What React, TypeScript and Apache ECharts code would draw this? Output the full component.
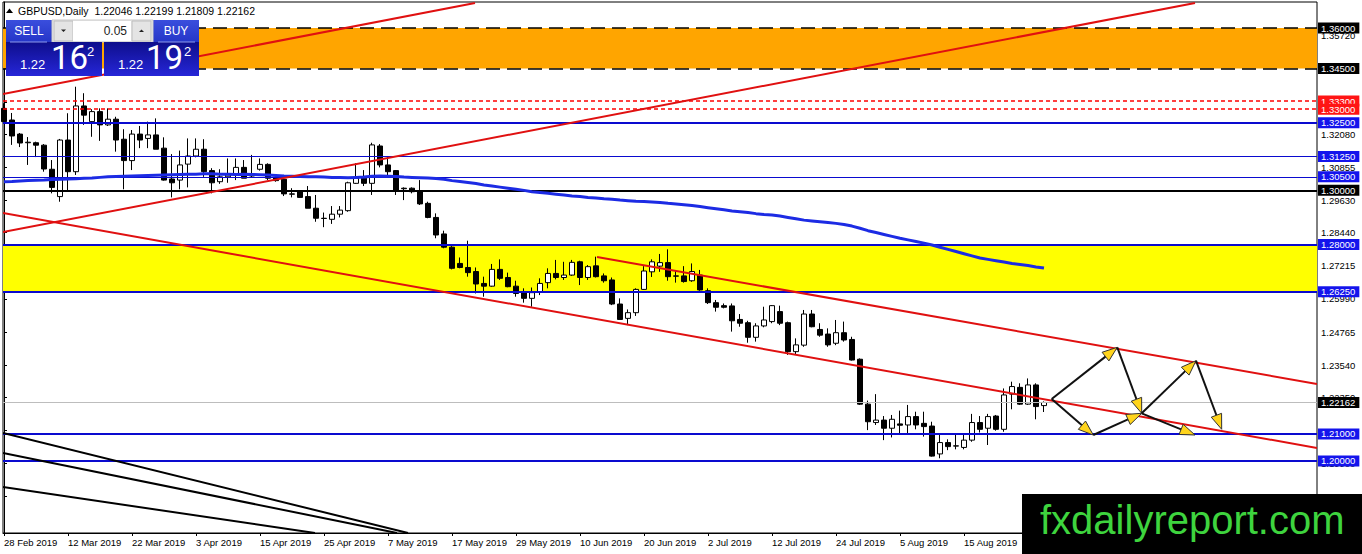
import * as echarts from 'echarts';
import { useEffect, useRef } from 'react';

// daily bars from 28 Feb 2019: [open, high, low, close]
const candles: [number, number, number, number][] = [
    [1.3303, 1.3322, 1.3248, 1.3254], [1.3260, 1.3286, 1.3168, 1.3201], [1.3208, 1.3212, 1.3160, 1.3175],
    [1.3176, 1.3197, 1.3094, 1.3178], [1.3176, 1.3180, 1.3123, 1.3167], [1.3167, 1.3171, 1.3069, 1.3079],
    [1.3078, 1.3112, 1.2989, 1.3011], [1.2977, 1.3190, 1.2958, 1.3186], [1.3186, 1.3285, 1.3001, 1.3069],
    [1.3069, 1.3383, 1.3057, 1.3312], [1.3312, 1.3359, 1.3242, 1.3278], [1.3254, 1.3300, 1.3198, 1.3291],
    [1.3291, 1.3303, 1.3183, 1.3242], [1.3242, 1.3303, 1.3238, 1.3263], [1.3263, 1.3272, 1.3143, 1.3186],
    [1.3189, 1.3226, 1.3004, 1.3110], [1.3110, 1.3223, 1.3075, 1.3208], [1.3208, 1.3238, 1.3156, 1.3186],
    [1.3192, 1.3254, 1.3156, 1.3205], [1.3205, 1.3266, 1.3152, 1.3152], [1.3156, 1.3196, 1.3036, 1.3038],
    [1.3042, 1.3134, 1.2974, 1.3028], [1.3038, 1.3147, 1.3004, 1.3094], [1.3097, 1.3192, 1.3011, 1.3127],
    [1.3127, 1.3192, 1.3122, 1.3152], [1.3152, 1.3189, 1.3050, 1.3069], [1.3073, 1.3082, 1.2989, 1.3028],
    [1.3032, 1.3078, 1.3024, 1.3050], [1.3050, 1.3118, 1.3028, 1.3057], [1.3057, 1.3118, 1.3038, 1.3085],
    [1.3085, 1.3112, 1.3045, 1.3045], [1.3060, 1.3131, 1.3048, 1.3053], [1.3078, 1.3118, 1.3073, 1.3096],
    [1.3096, 1.3100, 1.3038, 1.3045], [1.3048, 1.3057, 1.3032, 1.3036], [1.3041, 1.3057, 1.2979, 1.2987],
    [1.2987, 1.3008, 1.2974, 1.2986], [1.2995, 1.2997, 1.2972, 1.2974], [1.2977, 1.3016, 1.2934, 1.2934],
    [1.2934, 1.2983, 1.2884, 1.2897], [1.2897, 1.2918, 1.2864, 1.2896], [1.2893, 1.2942, 1.2876, 1.2912],
    [1.2912, 1.2942, 1.2900, 1.2927], [1.2925, 1.3032, 1.2921, 1.3028], [1.3026, 1.3100, 1.3024, 1.3045],
    [1.3045, 1.3075, 1.3016, 1.3026], [1.3026, 1.3176, 1.2983, 1.3168], [1.3164, 1.3171, 1.3085, 1.3094],
    [1.3094, 1.3127, 1.3050, 1.3069], [1.3073, 1.3075, 1.2983, 1.3001], [1.3008, 1.3011, 1.2964, 1.3006],
    [1.3008, 1.3011, 1.2989, 1.2995], [1.2995, 1.3038, 1.2946, 1.2950], [1.2952, 1.2958, 1.2897, 1.2900],
    [1.2900, 1.2915, 1.2823, 1.2835], [1.2839, 1.2851, 1.2786, 1.2790], [1.2790, 1.2794, 1.2708, 1.2712],
    [1.2730, 1.2752, 1.2712, 1.2715], [1.2715, 1.2814, 1.2681, 1.2696], [1.2700, 1.2715, 1.2619, 1.2654],
    [1.2656, 1.2681, 1.2607, 1.2646], [1.2646, 1.2728, 1.2644, 1.2708], [1.2708, 1.2745, 1.2669, 1.2675],
    [1.2678, 1.2696, 1.2642, 1.2644], [1.2646, 1.2666, 1.2607, 1.2619], [1.2622, 1.2638, 1.2585, 1.2601],
    [1.2601, 1.2641, 1.2570, 1.2622], [1.2626, 1.2675, 1.2613, 1.2656], [1.2659, 1.2712, 1.2638, 1.2693],
    [1.2693, 1.2743, 1.2671, 1.2678], [1.2678, 1.2736, 1.2669, 1.2687], [1.2687, 1.2743, 1.2684, 1.2734],
    [1.2736, 1.2740, 1.2650, 1.2678], [1.2678, 1.2724, 1.2669, 1.2718], [1.2721, 1.2755, 1.2678, 1.2681],
    [1.2684, 1.2693, 1.2659, 1.2666], [1.2669, 1.2678, 1.2576, 1.2580], [1.2580, 1.2601, 1.2523, 1.2523],
    [1.2527, 1.2560, 1.2502, 1.2548], [1.2548, 1.2638, 1.2536, 1.2634], [1.2634, 1.2720, 1.2632, 1.2702],
    [1.2699, 1.2745, 1.2680, 1.2736], [1.2720, 1.2765, 1.2699, 1.2733], [1.2733, 1.2782, 1.2666, 1.2681],
    [1.2684, 1.2703, 1.2659, 1.2683], [1.2684, 1.2720, 1.2659, 1.2663], [1.2666, 1.2730, 1.2662, 1.2700],
    [1.2687, 1.2706, 1.2629, 1.2632], [1.2629, 1.2638, 1.2580, 1.2585], [1.2585, 1.2595, 1.2552, 1.2568],
    [1.2574, 1.2582, 1.2564, 1.2568], [1.2573, 1.2582, 1.2478, 1.2518], [1.2523, 1.2543, 1.2496, 1.2509],
    [1.2511, 1.2518, 1.2437, 1.2457], [1.2457, 1.2509, 1.2441, 1.2499], [1.2499, 1.2570, 1.2494, 1.2521],
    [1.2515, 1.2576, 1.2509, 1.2574], [1.2552, 1.2574, 1.2502, 1.2509], [1.2511, 1.2515, 1.2392, 1.2404],
    [1.2404, 1.2453, 1.2392, 1.2429], [1.2428, 1.2558, 1.2422, 1.2543], [1.2543, 1.2558, 1.2494, 1.2496],
    [1.2486, 1.2509, 1.2459, 1.2465], [1.2469, 1.2490, 1.2422, 1.2429], [1.2435, 1.2521, 1.2428, 1.2474],
    [1.2474, 1.2515, 1.2441, 1.2447], [1.2449, 1.2459, 1.2371, 1.2373], [1.2376, 1.2379, 1.2207, 1.2210],
    [1.2210, 1.2223, 1.2114, 1.2145], [1.2142, 1.2247, 1.2133, 1.2151], [1.2151, 1.2166, 1.2077, 1.2121],
    [1.2121, 1.2170, 1.2087, 1.2154], [1.2137, 1.2186, 1.2102, 1.2132], [1.2133, 1.2207, 1.2099, 1.2164],
    [1.2164, 1.2182, 1.2117, 1.2133], [1.2139, 1.2182, 1.2090, 1.2127], [1.2129, 1.2145, 1.2016, 1.2018],
    [1.2026, 1.2102, 1.2010, 1.2068], [1.2068, 1.2080, 1.2040, 1.2053], [1.2055, 1.2100, 1.2043, 1.2056],
    [1.2050, 1.2100, 1.2043, 1.2077], [1.2077, 1.2174, 1.2071, 1.2142], [1.2142, 1.2166, 1.2105, 1.2117],
    [1.2121, 1.2174, 1.2059, 1.2164], [1.2166, 1.2170, 1.2112, 1.2117], [1.2117, 1.2268, 1.2108, 1.2244],
    [1.2247, 1.2293, 1.2191, 1.2275], [1.2272, 1.2287, 1.2207, 1.2210], [1.2210, 1.2305, 1.2207, 1.2281],
    [1.2281, 1.2287, 1.2154, 1.2201], [1.22046, 1.22199, 1.21809, 1.22162]
];

// moving average (blue line)
const movingAverage: number[] = [
    1.3032, 1.3033, 1.3035, 1.3036, 1.3037, 1.3038, 1.3040, 1.3041,
    1.3042, 1.3043, 1.3045, 1.3046, 1.3048, 1.3050, 1.3051, 1.3052,
    1.3053, 1.3054, 1.3055, 1.3056, 1.3057, 1.3058, 1.3059, 1.3060,
    1.3060, 1.3061, 1.3061, 1.3060, 1.3060, 1.3059, 1.3060, 1.3059, 1.3058, 1.3057, 1.3055,
    1.3053, 1.3052, 1.3051, 1.3050, 1.3050, 1.3049, 1.3048,
    1.3048, 1.3047, 1.3048, 1.3049, 1.3052, 1.3053,
    1.3052, 1.3051, 1.3049, 1.3048, 1.3047, 1.3046, 1.3044, 1.3041,
    1.3036, 1.3033, 1.3029, 1.3025, 1.3020, 1.3016, 1.3012, 1.3008, 1.3004, 1.3000, 1.2995,
    1.2992, 1.2989, 1.2986, 1.2983, 1.2979, 1.2977, 1.2974, 1.2972, 1.2969, 1.2967, 1.2964,
    1.2962, 1.2960, 1.2959, 1.2957, 1.2955, 1.2952, 1.2950, 1.2947, 1.2944, 1.2940,
    1.2936, 1.2932, 1.2928, 1.2924, 1.2921, 1.2918, 1.2914, 1.2911, 1.2909, 1.2905, 1.2900, 1.2895, 1.2890,
    1.2887, 1.2884, 1.2881, 1.2878, 1.2874, 1.2868, 1.2860, 1.2851,
    1.2844, 1.2837, 1.2830, 1.2823, 1.2817, 1.2811, 1.2805, 1.2798,
    1.2790, 1.2782, 1.2774, 1.2766, 1.2758, 1.2750,
    1.2745, 1.2740, 1.2735, 1.2730, 1.2726, 1.2722, 1.2717, 1.2713
];

// right-hand price scale; the ticks hidden under the level boxes get no label
const priceTicks = [1.3572, 1.34495, 1.3327, 1.3208, 1.30855, 1.2963, 1.2844, 1.27215, 1.2599, 1.24765, 1.2354, 1.2235, 1.21125, 1.199, 1.1869];
const priceLabels = [1.3572, 1.3208, 1.30855, 1.2963, 1.2844, 1.27215, 1.2599, 1.24765, 1.2354, 1.2235, 1.199, 1.1869];

const orangeZone = [1.345, 1.36];
const yellowZone = [1.2625, 1.28];
const redDottedLevels = [1.333, 1.33];
const thickBlueLevels = [1.325, 1.28, 1.2625, 1.21, 1.2];
const thinBlueLevels = [1.3125, 1.305];
const roundLevel = 1.3;
const lastPrice = 1.22162;

// trend lines as [barFrom, priceFrom, barTo, priceTo]
const redTrendLines: number[][] = [
    [-0.125, 1.33561, 58.875, 1.36924],
    [-0.125, 1.28461, 148.875, 1.36924],
    [-0.125, 1.29163, 164.125, 1.20479],
    [74.125, 1.27537, 164.125, 1.22844]
];
const blackTrendLines: number[][] = [
    [-0.125, 1.21033, 50.5, 1.17338],
    [-0.125, 1.20294, 49.125, 1.17338],
    [-0.125, 1.19038, 38.875, 1.17338]
];
const arrows: number[][] = [
    [130.96, 1.2229, 139.16, 1.242],
    [139.16, 1.242, 142.21, 1.21761],
    [142.21, 1.21761, 149.0, 1.23705],
    [149.0, 1.23705, 152.21, 1.2117],
    [130.96, 1.2229, 136.16, 1.20959],
    [136.16, 1.20959, 142.21, 1.21761],
    [142.21, 1.21761, 148.875, 1.20959]
];

const BAR_COUNT = 165;
const LAST_DATE_LABEL = 120;
const MONTHS = ['Jan', 'Feb', 'Mar', 'Apr', 'May', 'Jun', 'Jul', 'Aug', 'Sep', 'Oct', 'Nov', 'Dec'];
const dates: string[] = [];
{
    const d = new Date(Date.UTC(2019, 1, 28));
    while (dates.length < BAR_COUNT) {
        const wd = d.getUTCDay();
        if (wd !== 0 && wd !== 6) {
            dates.push(`${d.getUTCDate()} ${MONTHS[d.getUTCMonth()]} ${d.getUTCFullYear()}`);
        }
        d.setUTCDate(d.getUTCDate() + 1);
    }
}
const dateTicks: number[] = [];
for (let i = 0; i < BAR_COUNT; i += 8) dateTicks.push(i);

const FONT = '"Liberation Sans", Arial, sans-serif';
const BLUE = '#0A0ACF';
const BOX_BLUE = '#1414EC';

const boxLabel = (value: number, bg: string) => ({
    show: true,
    position: 'end',
    distance: 1,
    formatter: value.toFixed(5),
    color: '#fff',
    backgroundColor: bg,
    padding: [1, 4, 0, 3],
    fontSize: 9.5,
    lineHeight: 10,
    fontFamily: FONT
});

const level = (value: number, color: string, width: number, type: any, bg: string) => ({
    yAxis: value,
    lineStyle: { color, width, type, opacity: 1 },
    label: boxLabel(value, bg)
});

const segmentSeries = (data: number[][], color: string, width: number, z: number) => ({
    type: 'custom',
    data,
    encode: { x: [0, 2], y: [1, 3] },
    clip: true,
    silent: true,
    z,
    renderItem: (_params: any, api: any) => {
        const a = api.coord([api.value(0), api.value(1)]);
        const b = api.coord([api.value(2), api.value(3)]);
        return {
            type: 'line',
            shape: { x1: a[0], y1: a[1], x2: b[0], y2: b[1] },
            style: { stroke: color, lineWidth: width }
        };
    }
});

const buildOption = () => {
    const grad = (c1: string, c2: string) => new echarts.graphic.LinearGradient(0, 0, 0, 1, [
        { offset: 0, color: c1 },
        { offset: 1, color: c2 }
    ]);
    const text = (x: number, y: number, t: string, size: number, fill: string, align = 'left', family = FONT) => ({
        type: 'text',
        x,
        y,
        z: 101,
        style: { text: t, fill, fontSize: size, fontFamily: family, align, verticalAlign: 'middle' }
    });

    return {
        animation: false,
        backgroundColor: '#fff',
        grid: {
            left: 3,
            right: 45,
            top: 2,
            bottom: 21,
            show: true,
            borderColor: '#000',
            borderWidth: 1,
            backgroundColor: '#fff'
        },
        xAxis: {
            type: 'value',
            min: -0.125,
            max: 164.125,
            splitLine: { show: false },
            axisLine: { lineStyle: { color: '#000', width: 1 } },
            axisTick: { customValues: dateTicks, length: 3, lineStyle: { color: '#000' } },
            axisLabel: {
                customValues: dateTicks.filter(v => v <= LAST_DATE_LABEL),
                formatter: (v: number) => dates[Math.round(v)] ?? '',
                align: 'left',
                margin: 4,
                color: '#000',
                fontSize: 9.5,
                fontFamily: FONT
            }
        },
        yAxis: {
            type: 'value',
            position: 'right',
            min: 1.17338,
            max: 1.36961,
            scale: true,
            splitLine: { show: false },
            axisLine: { show: true, lineStyle: { color: '#000', width: 1 } },
            axisTick: { show: true, customValues: priceTicks, length: 3, lineStyle: { color: '#000' } },
            axisLabel: {
                customValues: priceLabels,
                formatter: (v: number) => v.toFixed(5),
                margin: 4,
                color: '#000',
                fontSize: 9.5,
                fontFamily: FONT
            }
        },
        series: [
            {
                type: 'candlestick',
                data: candles.map(([o, h, l, c], i) => [i, o, c, l, h]),
                barWidth: 5,
                z: 4,
                itemStyle: {
                    color: '#fff',
                    color0: '#000',
                    borderColor: '#000',
                    borderColor0: '#000',
                    borderWidth: 1
                },
                markArea: {
                    silent: true,
                    data: [
                        [{ yAxis: orangeZone[0], itemStyle: { color: '#FFA500' } }, { yAxis: orangeZone[1] }],
                        [{ yAxis: yellowZone[0], itemStyle: { color: '#FFFF00' } }, { yAxis: yellowZone[1] }]
                    ]
                },
                markLine: {
                    silent: true,
                    symbol: 'none',
                    precision: 5,
                    data: [
                        level(orangeZone[1], '#000', 1.5, [14, 7], '#000'),
                        level(orangeZone[0], '#000', 1.5, [14, 7], '#000'),
                        ...redDottedLevels.map(v => level(v, '#FF0000', 1.5, [4, 3], '#FF1414')),
                        ...thickBlueLevels.map(v => level(v, BLUE, 2, 'solid', BOX_BLUE)),
                        ...thinBlueLevels.map(v => level(v, BLUE, 1.2, 'solid', BOX_BLUE)),
                        level(roundLevel, '#000', 2, 'solid', '#000'),
                        level(lastPrice, '#BDBDBD', 1, 'solid', '#000')
                    ]
                }
            },
            {
                type: 'line',
                data: movingAverage.map((v, i) => [i, v]),
                showSymbol: false,
                symbol: 'none',
                silent: true,
                z: 6,
                lineStyle: { color: '#1C2BE4', width: 3 }
            },
            segmentSeries(redTrendLines, '#E01010', 2, 7),
            segmentSeries(blackTrendLines, '#000', 2, 7),
            {
                type: 'custom',
                data: arrows,
                encode: { x: [0, 2], y: [1, 3] },
                silent: true,
                z: 8,
                renderItem: (_params: any, api: any) => {
                    const a = api.coord([api.value(0), api.value(1)]);
                    const b = api.coord([api.value(2), api.value(3)]);
                    const dx = b[0] - a[0];
                    const dy = b[1] - a[1];
                    const len = Math.hypot(dx, dy) || 1;
                    const ux = dx / len;
                    const uy = dy / len;
                    const headLen = 15;
                    const headW = 5.5;
                    const bx = b[0] - ux * headLen;
                    const by = b[1] - uy * headLen;
                    return {
                        type: 'group',
                        children: [
                            {
                                type: 'line',
                                shape: { x1: a[0], y1: a[1], x2: bx, y2: by },
                                style: { stroke: '#111', lineWidth: 2 }
                            },
                            {
                                type: 'polygon',
                                shape: {
                                    points: [
                                        [b[0], b[1]],
                                        [bx - uy * headW, by + ux * headW],
                                        [bx + uy * headW, by - ux * headW]
                                    ]
                                },
                                style: { fill: '#FFD41C', stroke: '#333', lineWidth: 1 }
                            }
                        ]
                    };
                }
            }
        ],
        graphic: [
            // title
            { type: 'polygon', z: 101, shape: { points: [[6, 13], [13, 13], [9.5, 8.5]] }, style: { fill: '#000' } },
            text(18, 11, 'GBPUSD,Daily  1.22046 1.22199 1.21809 1.22162', 10.5, '#000'),
            // one-click trading panel
            { type: 'rect', z: 100, shape: { x: 6, y: 20, width: 46, height: 22 }, style: { fill: grad('#3A4EDD', '#2536C8') } },
            { type: 'rect', z: 100, shape: { x: 153, y: 20, width: 46, height: 22 }, style: { fill: grad('#3A4EDD', '#2536C8') } },
            text(29, 31, 'SELL', 12, '#fff', 'center'),
            text(176, 31, 'BUY', 12, '#fff', 'center'),
            { type: 'rect', z: 100, shape: { x: 52, y: 20, width: 101, height: 22 }, style: { fill: '#EDEDED', stroke: '#C8C8C8', lineWidth: 1 } },
            { type: 'rect', z: 101, shape: { x: 54, y: 21, width: 19, height: 20 }, style: { fill: '#E4E4E4', stroke: '#BEBEBE', lineWidth: 1 } },
            { type: 'rect', z: 101, shape: { x: 73, y: 21, width: 58, height: 20 }, style: { fill: '#fff' } },
            { type: 'rect', z: 101, shape: { x: 132, y: 21, width: 19, height: 20 }, style: { fill: '#E4E4E4', stroke: '#BEBEBE', lineWidth: 1 } },
            { type: 'polygon', z: 102, shape: { points: [[61, 29.5], [66, 29.5], [63.5, 32]] }, style: { fill: '#222' } },
            { type: 'polygon', z: 102, shape: { points: [[139, 32], [144, 32], [141.5, 29.5]] }, style: { fill: '#222' } },
            text(127, 31, '0.05', 12, '#222', 'right'),
            { type: 'rect', z: 100, shape: { x: 6, y: 42, width: 96, height: 34 }, style: { fill: grad('#0E0E8C', '#2626D8') } },
            { type: 'rect', z: 100, shape: { x: 104, y: 42, width: 95, height: 34 }, style: { fill: grad('#0E0E8C', '#2626D8') } },
            { type: 'line', z: 101, shape: { x1: 10, y1: 42, x2: 47, y2: 42 }, style: { stroke: '#8C9AEB', lineWidth: 1 } },
            { type: 'line', z: 101, shape: { x1: 158, y1: 42, x2: 195, y2: 42 }, style: { stroke: '#8C9AEB', lineWidth: 1 } },
            text(20, 64, '1.22', 13, '#fff'),
            text(51, 57, '16', 33, '#fff', 'left', 'Roboto, sans-serif'),
            text(87, 51, '2', 13, '#fff'),
            text(118, 64, '1.22', 13, '#fff'),
            text(146, 57, '19', 33, '#fff', 'left', 'Roboto, sans-serif'),
            text(184, 51, '2', 13, '#fff'),
            // watermark
            { type: 'rect', z: 100, shape: { x: 1022, y: 494, width: 340, height: 60 }, style: { fill: '#000' } },
            text(1040, 520, 'fxdailyreport.com', 40, '#3ED43E')
        ]
    };
};

const GbpUsdChart = () => {
    const chartDiv = useRef<HTMLDivElement>(null);

    useEffect(() => {
        const chart = echarts.init(chartDiv.current, null, { renderer: 'svg' });
        chart.setOption(buildOption() as any);

        return () => {
            chart.dispose();
        };
    }, []);

    return (
        <div
            ref={chartDiv}
            style={{ position: 'absolute', left: 0, top: 0, width: '1362px', height: '554px', background: '#fff' }}
        />
    );
};

export default GbpUsdChart;
